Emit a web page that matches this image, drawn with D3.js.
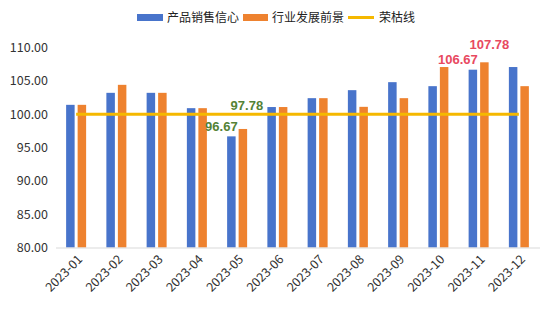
<!DOCTYPE html>
<html><head><meta charset="utf-8">
<script src="https://cdn.jsdelivr.net/npm/d3@7"></script>
<style>body{margin:0;background:#fff;} svg{display:block;font-family:"Noto Sans CJK SC","Noto Sans",sans-serif;}</style>
</head><body><svg id="c" width="553" height="325"></svg>
<script>
const months = ["2023-01","2023-02","2023-03","2023-04","2023-05","2023-06","2023-07","2023-08","2023-09","2023-10","2023-11","2023-12"];
const salesConfidence = [101.4,103.2,103.2,100.9,96.67,101.07,102.4,103.6,104.8,104.2,106.67,107.07];
const industryOutlook = [101.4,104.4,103.2,100.9,97.78,101.07,102.4,101.1,102.4,107.07,107.78,104.2];
const boomLine = [100,100,100,100,100,100,100,100,100,100,100,100];
const yTicks = [80,85,90,95,100,105,110];
const seriesNames = ["产品销售信心","行业发展前景","荣枯线"];
const colors = ["#4874cb","#ee822f","#f5b800"];

const svg = d3.select("#c");
const m = {l:56, r:14, t:47, b:77};
const W = 553, H = 325;
const x = d3.scaleBand().domain(months).range([m.l, W - m.r]);
const y = d3.scaleLinear().domain([80,110]).range([247.5, 47.5]);

// y axis labels
svg.append("g").selectAll("text").data(yTicks).join("text")
  .attr("x", 48).attr("y", d => y(d)).attr("dy", "0.35em")
  .attr("text-anchor", "end").attr("font-size", 12.5).attr("fill", "#333")
  .text(d => d.toFixed(2));

// bars
const bw = 8.5;
svg.append("g").selectAll("rect").data(salesConfidence).join("rect")
  .attr("x", (d,i) => x(months[i]) + x.bandwidth()/2 - bw - 1.5)
  .attr("y", d => y(d)).attr("width", bw).attr("height", d => y(80) - y(d))
  .attr("fill", colors[0]);
svg.append("g").selectAll("rect").data(industryOutlook).join("rect")
  .attr("x", (d,i) => x(months[i]) + x.bandwidth()/2 + 1.5)
  .attr("y", d => y(d)).attr("width", bw).attr("height", d => y(80) - y(d))
  .attr("fill", colors[1]);

// x axis line
svg.append("line").attr("x1", m.l).attr("x2", W - m.r + 1).attr("y1", 248).attr("y2", 248)
  .attr("stroke", "#d9d9d9").attr("stroke-width", 1);

// boom line
const line = d3.line().x((d,i) => x(months[i]) + x.bandwidth()/2).y(d => y(d));
svg.append("path").datum(boomLine).attr("d", line)
  .attr("fill", "none").attr("stroke", colors[2]).attr("stroke-width", 3);

// x labels
svg.append("g").selectAll("text").data(months).join("text")
  .attr("transform", d => `translate(${x(d) + x.bandwidth()/2 + 4},${257}) rotate(-45)`)
  .attr("text-anchor", "end").attr("dy", "0.35em")
  .attr("font-size", 12.5).attr("fill", "#333").text(d => d);

// annotations
const ann = [
  {i:4, s:0, v:salesConfidence[4], dx:-10, dy:-10, c:"#548235"},
  {i:4, s:1, v:industryOutlook[4], dx:4, dy:-24, c:"#548235"},
  {i:10, s:0, v:salesConfidence[10], dx:-15, dy:-10, c:"#e8495f"},
  {i:10, s:1, v:industryOutlook[10], dx:5, dy:-18, c:"#e8495f"}
];
svg.append("g").selectAll("text").data(ann).join("text")
  .attr("x", d => x(months[d.i]) + x.bandwidth()/2 + (d.s === 0 ? -bw/2 - 1.5 : bw/2 + 1.5) + d.dx)
  .attr("y", d => y(d.v) + d.dy).attr("dy", "0.35em")
  .attr("text-anchor", "middle").attr("font-size", 13).attr("font-weight", "bold")
  .attr("font-family", "'Liberation Sans', Arial, sans-serif")
  .attr("fill", d => d.c).text(d => d.v.toFixed(2));

// legend
const lg = svg.append("g");
const items = [
  {x:137, w:26, tx:167, type:"rect"},
  {x:243, w:25, tx:272, type:"rect"},
  {x:348, w:26, tx:379, type:"line"}
];
items.forEach((it, k) => {
  if (it.type === "rect") {
    lg.append("rect").attr("x", it.x).attr("y", 14).attr("width", it.w).attr("height", 7).attr("fill", colors[k]);
  } else {
    lg.append("line").attr("x1", it.x).attr("x2", it.x + it.w).attr("y1", 17.5).attr("y2", 17.5)
      .attr("stroke", colors[k]).attr("stroke-width", 3);
  }
  lg.append("text").attr("x", it.tx).attr("y", 18).attr("dy", "0.35em")
    .attr("font-size", 12).attr("fill", "#222").text(seriesNames[k]);
});
</script></body></html>
